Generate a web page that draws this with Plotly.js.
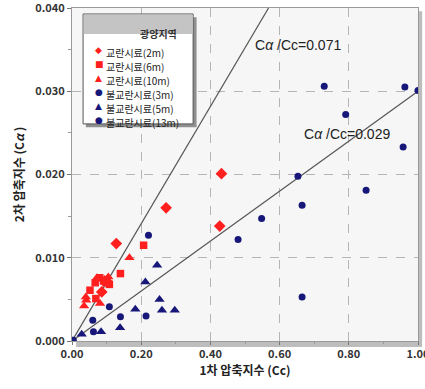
<!DOCTYPE html>
<html>
<head>
<meta charset="utf-8">
<script src="https://cdn.plot.ly/plotly-3.0.1.min.js"></script>
<style>html,body{margin:0;padding:0;background:#fff;}#chart{width:425px;height:389px;}</style>
</head>
<body>
<div id="chart"></div>
<script>
// 교란시료 (disturbed)
const dist2mX = [0.128, 0.272, 0.427, 0.432, 0.086, 0.100];
const dist2mY = [0.0117, 0.0160, 0.0138, 0.0201, 0.0059, 0.0072];
const dist6mX = [0.207, 0.140, 0.067, 0.091, 0.108, 0.052, 0.069, 0.080, 0.098];
const dist6mY = [0.0115, 0.0081, 0.0070, 0.0072, 0.0068, 0.0061, 0.0051, 0.0076, 0.0070];
const dist10mX = [0.166, 0.072, 0.105, 0.041, 0.035, 0.081, 0.040, 0.094];
const dist10mY = [0.0100, 0.0076, 0.0077, 0.0049, 0.0042, 0.0045, 0.0053, 0.0074];
// 불교란시료 (undisturbed)
const und3mX = [0.221, 0.108, 0.214, 0.140, 0.060, 0.062, 0.004];
const und3mY = [0.0127, 0.0041, 0.0030, 0.0029, 0.0025, 0.0011, 0.0001];
const und5mX = [0.246, 0.212, 0.253, 0.183, 0.260, 0.297, 0.139, 0.084, 0.028];
const und5mY = [0.0091, 0.0071, 0.0050, 0.0038, 0.0037, 0.0037, 0.0016, 0.0011, 0.0008];
const und13mX = [0.480, 0.548, 0.665, 0.850, 0.665, 0.729, 0.962, 1.000, 0.791, 0.957, 0.653];
const und13mY = [0.0122, 0.0147, 0.0163, 0.0181, 0.0053, 0.0306, 0.0305, 0.0301, 0.0272, 0.0233, 0.0198];
// fitted lines (endpoints)
const highLineX = [0, 0.568];
const highLineY = [0, 0.040];
const lowLineX = [0, 1.0];
const lowLineY = [0, 0.030];
const seriesNames = ['교란시료(2m)', '교란시료(6m)', '교란시료(10m)', '불교란시료(3m)', '불교란시료(5m)', '불교란시료(13m)'];
const legendTitle = '광양지역';
const xTickVals = [0, 0.2, 0.4, 0.6, 0.8, 1.0];
const yTickVals = [0, 0.01, 0.02, 0.03, 0.04];

const RED = '#ff1f1f', NAVY = '#17177a';
const F = '"Noto Sans CJK KR", "Noto Sans", sans-serif';
const seriesColors = [RED, RED, RED, NAVY, NAVY, NAVY];
const seriesGlyphs = ['◆', '■', '▲', '●', '▲', '●'];

function pts(x, y, name, color, symbol, size) {
  return {x: x, y: y, name: name, type: 'scatter', mode: 'markers', showlegend: false,
    marker: {color: color, symbol: symbol, size: size, line: {width: 0}}};
}
const traces = [
  {x: highLineX, y: highLineY, type: 'scatter', mode: 'lines', line: {color: '#555', width: 1.2}, showlegend: false, hoverinfo: 'skip'},
  {x: lowLineX, y: lowLineY, type: 'scatter', mode: 'lines', line: {color: '#555', width: 1.2}, showlegend: false, hoverinfo: 'skip'},
  pts(dist2mX, dist2mY, seriesNames[0], RED, 'diamond', 9),
  pts(dist6mX, dist6mY, seriesNames[1], RED, 'square', 7.5),
  pts(dist10mX, dist10mY, seriesNames[2], RED, 'triangle-up', 9),
  pts(und3mX, und3mY, seriesNames[3], NAVY, 'circle', 7),
  pts(und5mX, und5mY, seriesNames[4], NAVY, 'triangle-up', 9),
  pts(und13mX, und13mY, seriesNames[5], NAVY, 'circle', 7)
];

// manual legend (compact, like the reference)
const legendAnn = [{
  x: 0.191, y: 0.952, xref: 'paper', yref: 'paper', text: '<b>' + legendTitle + '</b>', showarrow: false,
  font: {family: F, size: 10, color: '#333'}
}];
seriesNames.forEach((n, i) => {
  const yy = 0.892 - i * 0.042;
  legendAnn.push({x: 0.064, y: yy, xref: 'paper', yref: 'paper', text: seriesGlyphs[i], showarrow: false,
    borderpad: 0, font: {family: '"DejaVu Sans", sans-serif', size: 9, color: seriesColors[i]}});
  legendAnn.push({x: 0.094, y: yy, xref: 'paper', yref: 'paper', xanchor: 'left', text: n, showarrow: false,
    borderpad: 0, font: {family: F, size: 10, color: '#222'}});
});

const layout = {
  width: 425, height: 389,
  margin: {l: 72, r: 7, t: 8, b: 48},
  paper_bgcolor: '#ffffff',
  plot_bgcolor: 'rgba(0,0,0,0)',
  font: {family: F, color: '#333'},
  showlegend: false,
  xaxis: {
    range: [0, 1.0], tickvals: xTickVals, tickformat: '.2f', ticklabeloverflow: 'allow',
    showgrid: true, gridcolor: '#b5b5b5', griddash: 'dash', gridwidth: 1,
    zeroline: false, showline: true, linecolor: '#9a9a9a', linewidth: 1, mirror: true,
    ticks: 'outside', ticklen: 3, tickcolor: '#777',
    minor: {dtick: 0.1, ticks: 'outside', ticklen: 2, tickcolor: '#999', showgrid: false},
    tickfont: {family: F, size: 11, color: '#333', weight: 'bold'},
    title: {text: '1차 압축지수 (Cc)', font: {family: F, size: 12, color: '#222', weight: 'bold'}, standoff: 6}
  },
  yaxis: {
    range: [0, 0.040], tickvals: yTickVals, tickformat: '.3f', ticklabeloverflow: 'allow',
    showgrid: true, gridcolor: '#b5b5b5', griddash: 'dash', gridwidth: 1,
    zeroline: false, showline: true, linecolor: '#9a9a9a', linewidth: 1, mirror: true,
    ticks: 'outside', ticklen: 4, tickcolor: '#777',
    minor: {dtick: 0.005, ticks: 'outside', ticklen: 3, tickcolor: '#999', showgrid: false},
    tickfont: {family: F, size: 11, color: '#333', weight: 'bold'},
    title: {text: '2차 압축지수 (C<i>α</i> )', font: {family: F, size: 12, color: '#222', weight: 'bold'}, standoff: 8}
  },
  shapes: [
    {type: 'rect', xref: 'paper', yref: 'paper', x0: 0.012, x1: 1.012, y0: -0.018, y1: 0.99,
     fillcolor: '#bdbdbd', line: {width: 0}, layer: 'below'},
    {type: 'rect', xref: 'paper', yref: 'paper', x0: 0, x1: 1, y0: 0, y1: 1,
     fillcolor: '#f6f6f6', line: {width: 0}, layer: 'below'},
    {type: 'rect', xref: 'paper', yref: 'paper', x0: 0.040, x1: 0.360, y0: 0.642, y1: 0.972,
     fillcolor: '#8f8f8f', line: {width: 0}, layer: 'above'},
    {type: 'rect', xref: 'paper', yref: 'paper', x0: 0.032, x1: 0.350, y0: 0.652, y1: 0.982,
     fillcolor: '#ffffff', line: {color: '#555', width: 1}, layer: 'above'},
    {type: 'rect', xref: 'paper', yref: 'paper', x0: 0.034, x1: 0.348, y0: 0.922, y1: 0.980,
     fillcolor: '#c4c4c4', line: {width: 0}, layer: 'above'}
  ],
  annotations: legendAnn.concat([
    {x: 0.652, y: 0.0356, xref: 'x', yref: 'y', text: 'C<i>α</i> /Cc=0.071', showarrow: false,
     font: {family: '"Liberation Sans", sans-serif', size: 14, color: '#222'}},
    {x: 0.794, y: 0.0249, xref: 'x', yref: 'y', text: 'C<i>α</i> /Cc=0.029', showarrow: false,
     font: {family: '"Liberation Sans", sans-serif', size: 14, color: '#222'}}
  ])
};
Plotly.newPlot('chart', traces, layout, {displayModeBar: false, staticPlot: true});
</script>
</body>
</html>
